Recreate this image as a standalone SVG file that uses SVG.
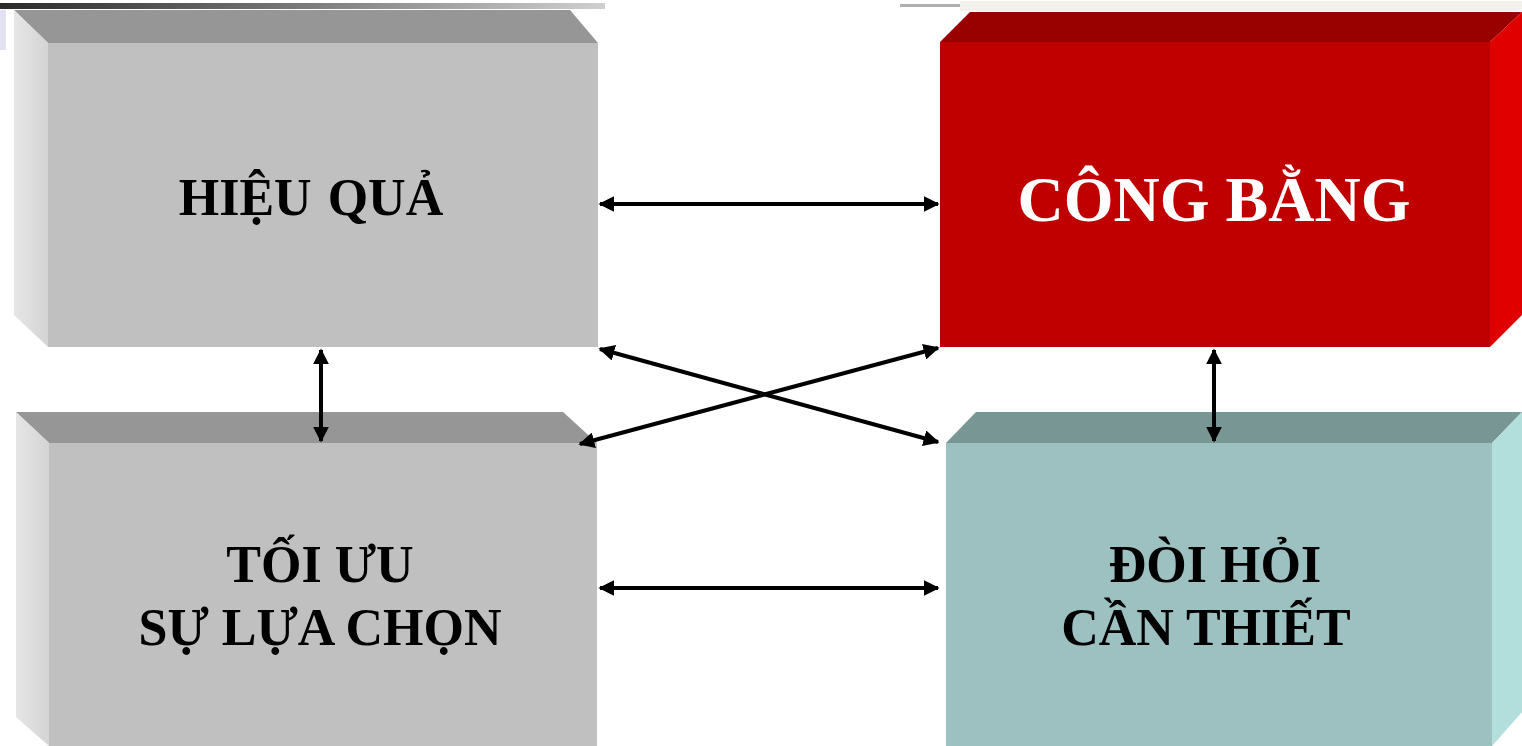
<svg xmlns="http://www.w3.org/2000/svg" width="1522" height="746" viewBox="0 0 1522 746">
<style>
.lbl{font-family:"Liberation Serif","Times New Roman",serif;font-weight:bold;text-anchor:middle}
.blk{fill:#000}
.wht{fill:#fff}
.conn line{stroke:#000;stroke-width:4;marker-start:url(#ah);marker-end:url(#ah)}
</style>
<defs>
<marker id="ah" viewBox="0 0 10 10" refX="9" refY="5" markerWidth="4" markerHeight="4" orient="auto-start-reverse" markerUnits="strokeWidth">
<path d="M0,0 L10,5 L0,10 Z" fill="#000"/>
</marker>
<linearGradient id="topbar" x1="0" x2="1" y1="0" y2="0">
<stop offset="0" stop-color="#2a2a2a"/>
<stop offset="0.5" stop-color="#7a7a7a"/>
<stop offset="1" stop-color="#d0d0d0"/>
</linearGradient>
<linearGradient id="gside" x1="0" x2="1" y1="0" y2="0">
<stop offset="0" stop-color="#e6e6e6"/>
<stop offset="1" stop-color="#d4d4d4"/>
</linearGradient>
</defs>
<rect width="1522" height="746" fill="#fff"/>
<rect x="0" y="3" width="605" height="6" fill="url(#topbar)"/>
<rect x="960" y="1" width="562" height="10" fill="#f3f1ec"/>
<rect x="900" y="4" width="60" height="3" fill="#b0b0b0"/>
<rect x="0" y="10" width="6" height="40" fill="#e2e2f2"/>

<g id="node-hieu-qua">
<polygon points="14,10 570,10 598,43 48,43" fill="#969696"/>
<polygon points="14,10 48,43 48,347 14,315" fill="url(#gside)"/>
<rect x="48" y="43" width="550" height="304" fill="#c0c0c0"/>
<text class="lbl blk" x="311" y="215" font-size="52" word-spacing="3">HIỆU QUẢ</text>
</g>

<g id="node-cong-bang">
<polygon points="970,12 1522,12 1490,42 940,42" fill="#990000"/>
<polygon points="1490,42 1522,12 1522,315 1490,347" fill="#e00000"/>
<rect x="940" y="42" width="550" height="305" fill="#c00000"/>
<text class="lbl wht" x="1214" y="221" font-size="64">CÔNG BẰNG</text>
</g>

<g id="node-toi-uu">
<polygon points="16,412 563,412 597,443 49,443" fill="#969696"/>
<polygon points="16,412 49,443 49,746 16,746 16,717" fill="url(#gside)"/>
<polygon points="16,717 49,746 16,746" fill="#fff"/>
<rect x="49" y="443" width="548" height="303" fill="#c0c0c0"/>
<text class="lbl blk" x="320" y="582" font-size="52">TỐI ƯU</text>
<text class="lbl blk" x="320" y="645" font-size="52">SỰ LỰA CHỌN</text>
</g>

<g id="node-doi-hoi">
<polygon points="976,412 1522,412 1492,443 946,443" fill="#789694"/>
<polygon points="1492,443 1522,412 1522,712 1492,746" fill="#b2dedc"/>
<rect x="946" y="443" width="546" height="303" fill="#9cc1c0"/>
<text class="lbl blk" x="1215" y="582" font-size="52">ĐÒI HỎI</text>
<text class="lbl blk" x="1206" y="645" font-size="52">CẦN THIẾT</text>
</g>

<g id="connectors" class="conn">
<line x1="600" y1="204" x2="938" y2="204"/>
<line x1="600" y1="588" x2="938" y2="588"/>
<line x1="321" y1="350" x2="321" y2="441"/>
<line x1="1214" y1="350" x2="1214" y2="441"/>
<line x1="600" y1="349" x2="938" y2="442"/>
<line x1="580" y1="444" x2="938" y2="348"/>
</g>
</svg>
